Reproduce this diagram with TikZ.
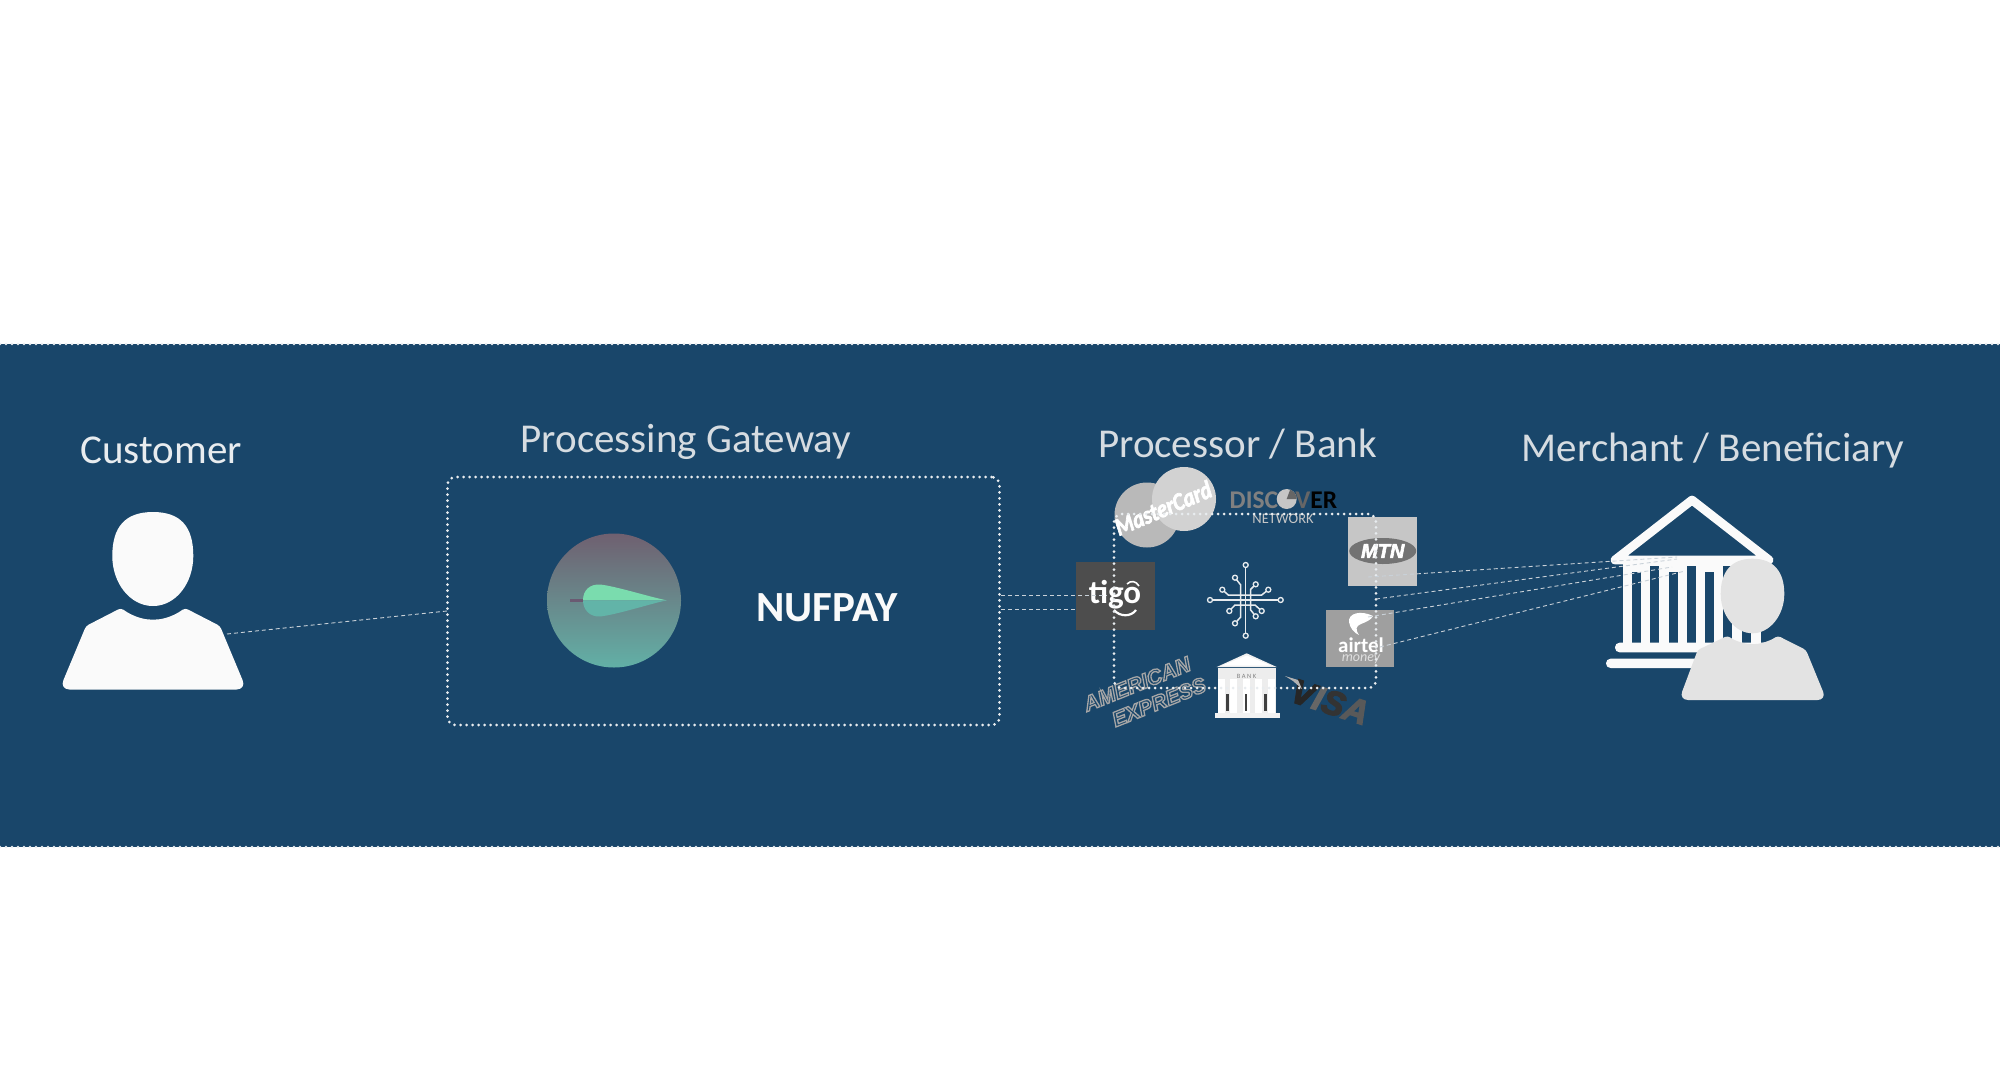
\documentclass[tikz,border=0pt]{standalone}
\usepackage{fontspec}
\setmainfont{Carlito}
\newfontfamily\logofont{Liberation Sans}
\usetikzlibrary{positioning}
\definecolor{bandblue}{HTML}{19466A}
\definecolor{dotgray}{HTML}{E8ECEF}
\definecolor{titlegray}{HTML}{D6DCE1}
\definecolor{linkgray}{HTML}{C9D1D8}
\definecolor{iconwhite}{HTML}{FAFAFA}
\definecolor{iconlight}{HTML}{E3E3E3}
\definecolor{logotop}{HTML}{6F6070}
\definecolor{logobot}{HTML}{62B0A6}
\definecolor{logostem}{HTML}{6A5A72}
\definecolor{leaftop}{HTML}{7ADCAE}
\definecolor{leafbot}{HTML}{62B4A8}
\definecolor{tigogray}{HTML}{4D4D4D}
\newcommand{\hollowtext}[1]{\special{pdf:code 1 Tr 1.3 w}#1\special{pdf:code 0 Tr 1 w}}
\tikzset{
  title/.style={anchor=base, inner sep=0pt, font=\fontsize{41}{41}\selectfont},
  dotbox/.style={draw=dotgray, line width=3, line cap=round, dash pattern=on 0pt off 6pt, rounded corners=8, inner sep=0pt},
  dotrule/.style={draw=dotgray, line width=2.6, line cap=round, dash pattern=on 0pt off 6pt},
  link/.style={draw=linkgray, line width=0.9, dash pattern=on 4pt off 3pt},
  circuit/.style={draw=dotgray, line width=1.5},
  pad/.style={circle, draw=dotgray, fill=bandblue, line width=1.3, inner sep=0pt, minimum size=5}
}
\begin{document}
\begin{tikzpicture}[x=1pt, y=-1pt]
  \useasboundingbox (0,0) rectangle (2000,1081);
  \fill[bandblue] (0,344) rectangle (2000,847); % band
  \draw[dotrule] (0,344) -- (2000,344);
  \draw[dotrule] (0,847) -- (2000,847);

  % Titles
  \node[title, text=dotgray] (customer) at (161,463) {Customer};
  \node[title, text=titlegray] (gatewaytitle) at (686,452) {Processing Gateway};
  \node[title, text=titlegray] (banktitle) at (1237.5,457) {Processor / Bank};
  \node[title, text=titlegray] (merchanttitle) at (1713,461) {Merchant / Beneficiary};

  % Customer figure
  \fill[iconwhite] (153,512) .. controls (125,512) and (112.3,527) .. (112.3,556) .. controls (112.3,583) and (130,606) .. (153,606) .. controls (176,606) and (193.3,583) .. (193.3,556) .. controls (193.3,527) and (181,512) .. (153,512) -- cycle;
  \fill[iconwhite, rounded corners=3] (86,626) -- (121,608) .. controls (132,616) and (143,619.5) .. (153,619.5) .. controls (163,619.5) and (174,616) .. (185,608) -- (220,626) [rounded corners=10] -- (246.5,689.5) -- (59.5,689.5) [rounded corners=3] -- cycle;

  % Gateway box
  \node[dotbox, minimum width=552, minimum height=248] (gateway) at (723.5,601) {};
  \node[circle, inner sep=0pt, minimum size=134, top color=logotop, bottom color=logobot] (logoback) at (614,600.5) {};
  \fill[logostem] (569.7,598.5) rectangle (584,602.3);
  \fill[leaftop] (583,600.3) .. controls (583,590) and (590,584) .. (600,584.5) .. controls (615,586) and (650,597) .. (666.5,600.3) -- cycle;
  \fill[leafbot] (583,600.3) .. controls (583,610) and (590,617) .. (600,616.5) .. controls (615,615) and (650,604) .. (666.5,600.3) -- cycle;
  \node[title, text=iconwhite, font=\fontsize{43}{43}\selectfont\bfseries] (nufpay) at (827,621) {NUFPAY};

  % Payment logos
  \node[inner sep=0pt, minimum width=79, minimum height=68, fill=tigogray] (tigo) at (1115.5,596) {};
  \node[inner sep=0pt, text=white, font=\fontsize{33}{33}\selectfont\bfseries] (tigotext) at (1115,595) {tigo};
  \draw[white, line width=2.2] (1114,610) .. controls (1120,617) and (1131,617) .. (1136,610);
  \draw[white, line width=1.6] (1127,584) .. controls (1131,580) and (1136,581) .. (1139,586);

  \fill[gray!55] (1147,515) circle (32.5);
  \fill[gray!35] (1184,499) circle (32);
  \node[inner sep=0pt, rotate=23, text=white, font=\fontsize{25}{25}\selectfont\bfseries\itshape] (mastercard) at (1163,508) {\scalebox{.84}[1]{\addfontfeature{FakeBold=3}MasterCard}};

  \node[inner sep=0pt, text=gray, font=\fontsize{25.5}{26}\selectfont\bfseries] (discover) at (1283.5,500) {DISC\textcolor{gray!40}{O}\textcolor{gray!80!black}{V}\textcolor{black}{ER}};
  \fill[gray!45] (1286.7,499) circle (10);
  \fill[gray!80!black] (1286.7,499) -- (1296.7,499) arc (0:-70:10) -- cycle;
  \node[inner sep=0pt, text=gray!45, font=\fontsize{14.5}{15}\selectfont] (network) at (1283,519) {NETWORK};

  \node[inner sep=0pt, minimum width=69, minimum height=69, fill=gray!45] (mtn) at (1382.5,551.5) {};
  \fill[black!55] (1382.7,551) ellipse (33.5 and 13);
  \node[inner sep=0pt, text=white, font=\logofont\fontsize{20}{20}\selectfont\bfseries\itshape] (mtntext) at (1382.7,551) {\addfontfeature{FakeBold=3}MTN};

  \node[inner sep=0pt, minimum width=68, minimum height=57, fill=gray!75] (airtel) at (1360,638.5) {};
  \fill[white] (1373,616) .. controls (1361,610) and (1348,613) .. (1349,622) .. controls (1350,628) and (1354,633) .. (1359,635) .. controls (1355,629) and (1356,626) .. (1361,624) .. controls (1366,622) and (1371,620) .. (1373,616) -- cycle;
  \node[inner sep=0pt, text=white, font=\fontsize{21}{21}\selectfont\bfseries] (airteltext) at (1361,645) {airtel};
  \node[inner sep=0pt, text=gray!25, font=\fontsize{14}{14}\selectfont\itshape] (money) at (1361,659) {money};

  % Circuit icon
  \draw[circuit] (1245.7,565) -- (1245.7,635.7);
  \draw[circuit] (1210,600) -- (1280.7,600);
  \draw[circuit] (1235,577.7) -- (1240.7,585) -- (1240.7,617) -- (1235,623.3);
  \draw[circuit] (1255.7,584.3) -- (1250.7,589.3) -- (1250.7,610) -- (1255.7,616.3);
  \draw[circuit] (1222.3,589.7) -- (1228.3,595) -- (1261.7,595) -- (1268.3,589.7);
  \draw[circuit] (1229.3,611) -- (1235,605) -- (1255,605) -- (1261.7,611);
  \foreach \px/\py in {1245.7/565, 1245.7/635.7, 1210/600, 1280.7/600, 1235/577.7, 1235/623.3, 1255.7/584.3, 1255.7/616.3, 1222.3/589.7, 1268.3/589.7, 1229.3/611, 1261.7/611}
    \node[pad] at (\px,\py) {};

  % Small bank
  \fill[gray!14] (1218,668) rectangle (1276,713);
  \foreach \cx in {1221,1233.5,1246,1258.5,1271}
    \fill[white] (\cx-3.5,679) rectangle (\cx+3.5,713);
  \fill[gray!12] (1216.7,667) -- (1246.7,653.3) -- (1276.7,667) -- cycle;
  \fill[white] (1222,665.5) -- (1246.7,655.5) -- (1271,665.5) -- cycle;
  \foreach \cx in {1227.3,1246,1265.3}
    \fill[black!75] (\cx-1.3,694) rectangle (\cx+1.3,711);
  \fill[gray!10] (1215,713) rectangle (1280,717.5);
  \node[inner sep=0pt, text=gray, font=\fontsize{6.5}{7}\selectfont] (banktext) at (1246.5,676) {B A N K};

  % Amex
  \node[inner sep=0pt, rotate=21.8, text=gray!70, font=\logofont\fontsize{21}{21}\selectfont\bfseries\itshape] (amexa) at (1137,684) {\hollowtext{AMERICAN}};
  \node[inner sep=0pt, rotate=21.8, text=gray!70, font=\logofont\fontsize{21}{21}\selectfont\bfseries\itshape] (amexb) at (1159,702) {\hollowtext{EXPRESS}};

  % Visa
  \node[inner sep=0pt, rotate=-18, font=\logofont\fontsize{34}{34}\selectfont\bfseries\itshape] (visa) at (1330,702) {\addfontfeature{FakeBold=4}\textcolor{black!85}{V}\textcolor{black!60}{I}\textcolor{black!80}{S}\textcolor{black!65}{A}};
  \fill[gray!60] (1285,676) -- (1298,680) -- (1302,689) -- (1293,681) -- cycle;

  % Processor box
  \node[dotbox, minimum width=262, minimum height=174] (procbox) at (1245,601) {};

  % Bank and merchant figure
  \draw[iconwhite, line width=8.8, line join=round] (1692,500) -- (1615,560) -- (1769,560) -- cycle;
  \fill[iconwhite] (1622.7,564) rectangle (1761,644);
  \foreach \gx/\gy in {1631.7/571.7, 1650/566, 1668.7/571.7, 1687/566, 1705.3/571.7, 1723.3/566, 1741.7/571.7}
    \fill[bandblue] (\gx,\gy) rectangle (\gx+9,642.7);
  \fill[iconwhite, rounded corners=4.5] (1615,642.7) rectangle (1775,652.3);
  \fill[iconwhite, rounded corners=4.5] (1606,658.7) rectangle (1785,668);
  \fill[iconlight] (1752.5,558.7) .. controls (1731,558.7) and (1720.7,572) .. (1720.7,594) .. controls (1720.7,615) and (1735,633.3) .. (1752.5,633.3) .. controls (1770,633.3) and (1784.3,615) .. (1784.3,594) .. controls (1784.3,572) and (1774,558.7) .. (1752.5,558.7) -- cycle;
  \fill[iconlight, rounded corners=3] (1697.7,650) -- (1727.7,635.7) .. controls (1735,641) and (1745,644) .. (1752.7,644) .. controls (1760,644) and (1770,641) .. (1777.7,635.7) -- (1806,650) [rounded corners=9] -- (1826.5,700) -- (1679,700) [rounded corners=3] -- cycle;

  % Connectors
  \coordinate (customerend) at (227,634);
  \coordinate (gatewayin) at (447,611);
  \coordinate (gatewayouta) at (1001,595.5);
  \coordinate (gatewayoutb) at (1001,609);
  \coordinate (tigoa) at (1107,595.5);
  \coordinate (tigob) at (1076,609);
  \coordinate (merchanta) at (1677,557);
  \coordinate (merchantb) at (1677,559);
  \coordinate (merchantc) at (1672,567);
  \coordinate (merchantd) at (1685,571);
  \coordinate (mtnout) at (1368,577);
  \coordinate (procout) at (1376,599);
  \coordinate (airtela) at (1368,617);
  \coordinate (airtelb) at (1380,647);
  \draw[link] (customerend) -- (gatewayin);
  \draw[link] (gatewayouta) -- (tigoa);
  \draw[link] (gatewayoutb) -- (tigob);
  \draw[link] (mtnout) -- (merchanta);
  \draw[link] (procout) -- (merchantb);
  \draw[link] (airtela) -- (merchantc);
  \draw[link] (airtelb) -- (merchantd);
\end{tikzpicture}
\end{document}
